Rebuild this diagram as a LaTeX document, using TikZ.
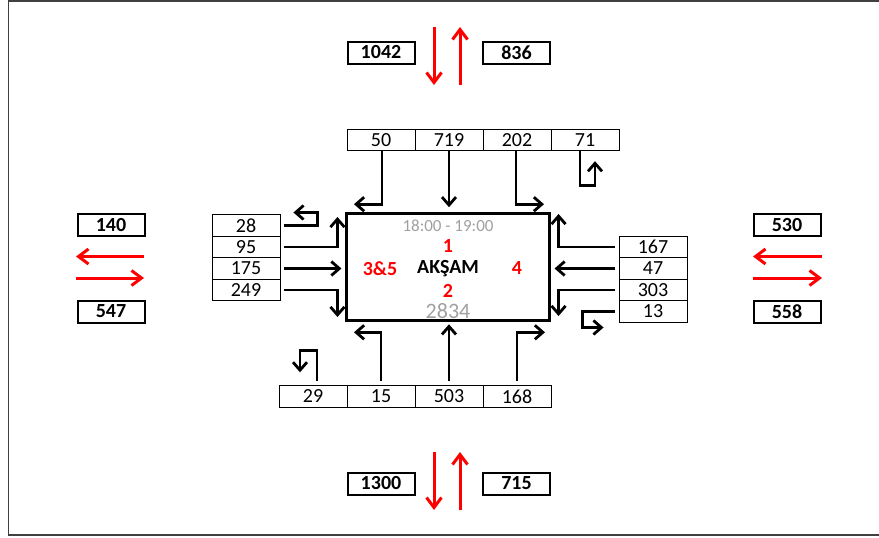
\documentclass[tikz,border=0pt]{standalone}
\usepackage{fontspec}
\setmainfont{Carlito}
\usetikzlibrary{arrows.meta}
\definecolor{txtgray}{RGB}{160,160,160}
\definecolor{arrred}{RGB}{255,0,0}
\begin{document}
\begin{tikzpicture}[x=1pt,y=-1pt,
  cell/.style={draw,line width=0.9pt,minimum width=68pt,minimum height=21.5pt,inner sep=0pt,font=\fontsize{20}{20}\selectfont},
  lbl/.style={draw,line width=2pt,minimum width=67pt,minimum height=22pt,inner sep=0pt,font=\bfseries\fontsize{20}{20}\selectfont},
  conn/.style={line width=2.8pt,-{Straight Barb[length=8pt,width=14pt,line width=2.8pt]}},
  redarr/.style={arrred,line width=3pt,-{Straight Barb[length=10pt,width=15pt,line width=3pt]}},
  ctr/.style={font=\bfseries\fontsize{20}{20}\selectfont,inner sep=0pt}]
\useasboundingbox (0,0) rectangle (879,538);
% outer frame
\draw[black!75,line width=1.3pt] (885,1) -- (8.5,1) -- (8.5,535) -- (885,535);
% central box
\node[draw,line width=2.5pt,minimum width=203pt,minimum height=107pt,inner sep=0pt] (box) at (448,267) {};
\node[font=\fontsize{17}{17}\selectfont,text=txtgray,inner sep=0pt] (time) at (448,226) {18:00 - 19:00};
\node[ctr,text=arrred] (n1) at (448,246.5) {1};
\node[ctr,text=arrred] (n35) at (380,268.5) {3\&5};
\node[ctr] (aks) at (448,268.5) {AKŞAM};
\node[ctr,text=arrred] (n4) at (517,268.5) {4};
\node[ctr,text=arrred] (n2) at (448,290.5) {2};
\node[font=\fontsize{22}{22}\selectfont,text=txtgray,inner sep=0pt] (tot) at (448,311) {2834};
% top cells
\node[cell] (t50) at (381,140) {50};
\node[cell] (t719) at (449,140) {719};
\node[cell] (t202) at (517,140) {202};
\node[cell] (t71) at (585,140) {71};
% left cells
\node[cell] (l28) at (246,225.5) {28};
\node[cell] (l95) at (246,247) {95};
\node[cell] (l175) at (246,268.5) {175};
\node[cell] (l249) at (246,290) {249};
% right cells
\node[cell] (r167) at (653,247) {167};
\node[cell] (r47) at (653,268.5) {47};
\node[cell] (r303) at (653,290) {303};
\node[cell] (r13) at (653,311.5) {13};
% bottom cells
\node[cell] (b29) at (313,396.5) {29};
\node[cell] (b15) at (381,396.5) {15};
\node[cell] (b503) at (449,396.5) {503};
\node[cell] (b168) at (517,396.5) {168};
% label boxes
\node[lbl] (lt1) at (381,52.5) {1042};
\node[lbl] (lt2) at (516.5,52.5) {836};
\node[lbl] (lb1) at (381,483.5) {1300};
\node[lbl] (lb2) at (516.5,483.5) {715};
\node[lbl] (ll1) at (111,225) {140};
\node[lbl] (ll2) at (111,311.5) {547};
\node[lbl] (lr1) at (787,225) {530};
\node[lbl] (lr2) at (787,311.5) {558};
% top connectors
\draw[conn] ([xshift=1pt]t50.south) |- ++(-28,53);
\draw[conn] (t719.south) -- ++(0,56);
\draw[conn] ([xshift=-1pt]t202.south) |- ++(28,53);
\draw[conn] ([xshift=-5pt]t71.south) |- ++(15,34) -- ++(0,-24);
% left connectors
\draw[conn] ([xshift=4pt]l28.east) -| ++(33,-13) -- ++(-24,0);
\draw[conn] ([xshift=4pt]l95.east) -| ++(53,-30);
\draw[conn] ([xshift=4pt]l175.east) -- ++(57,0);
\draw[conn] ([xshift=4pt]l249.east) -| ++(53,27);
% right connectors
\draw[conn] ([xshift=-4pt]r167.west) -| ++(-56,-33);
\draw[conn] ([xshift=-4pt]r47.west) -- ++(-60,0);
\draw[conn] ([xshift=-4pt]r303.west) -| ++(-56,26);
\draw[conn] ([xshift=-4pt]r13.west) -| ++(-32,16) -- ++(21,0);
% bottom connectors
\draw[conn] ([xshift=4pt,yshift=4pt]b29.north) |- ++(-17,-31) -- ++(0,22);
\draw[conn] ([yshift=4pt]b15.north) |- ++(-27,-49);
\draw[conn] ([yshift=4pt]b503.north) -- ++(0,-57);
\draw[conn] ([yshift=4pt]b168.north) |- ++(28,-49);
% red flow arrows
\coordinate (td1) at (434,27); \coordinate (td2) at (434,85);
\coordinate (tu1) at (460,85); \coordinate (tu2) at (460,27);
\draw[redarr] (td1) -- (td2);
\draw[redarr] (tu1) -- (tu2);
\coordinate (bd1) at (434,452); \coordinate (bd2) at (434,510);
\coordinate (bu1) at (460,510); \coordinate (bu2) at (460,452);
\draw[redarr] (bd1) -- (bd2);
\draw[redarr] (bu1) -- (bu2);
\coordinate (ll1a) at (144,256.5); \coordinate (ll1b) at (76,256.5);
\coordinate (ll2a) at (76,278); \coordinate (ll2b) at (144,278);
\draw[redarr] (ll1a) -- (ll1b);
\draw[redarr] (ll2a) -- (ll2b);
\coordinate (rl1a) at (822,256.5); \coordinate (rl1b) at (753,256.5);
\coordinate (rl2a) at (753,278); \coordinate (rl2b) at (822,278);
\draw[redarr] (rl1a) -- (rl1b);
\draw[redarr] (rl2a) -- (rl2b);
\end{tikzpicture}
\end{document}
